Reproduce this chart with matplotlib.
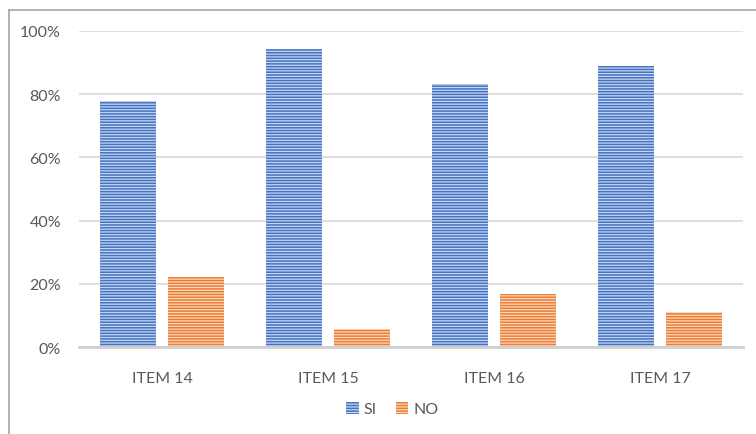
import matplotlib
matplotlib.use("Agg")
import matplotlib.pyplot as plt
from matplotlib.lines import Line2D
from matplotlib.patches import Patch
from matplotlib.ticker import PercentFormatter
import numpy as np

items = ["ITEM 14", "ITEM 15", "ITEM 16", "ITEM 17"]
si = [77.8, 94.4, 83.3, 88.9]
no = [22.2, 5.6, 16.7, 11.1]
yticks = [0, 20, 40, 60, 80, 100]

BLUE = "#4472C4"
ORANGE = "#ED7D31"
TEXT = "#595959"

plt.rcParams["font.family"] = ["Lato", "DejaVu Sans"]
plt.rcParams["hatch.linewidth"] = 0.9

fig = plt.figure(figsize=(7.56, 4.35), dpi=100)
ax = fig.add_axes([79 / 756, 1 - 348 / 435, 664 / 756, 316 / 435])

x = np.arange(len(items))
w = 0.337
stripe = dict(hatch="------", edgecolor=(1, 1, 1, 0.7), linewidth=0, zorder=3)
ax.bar(x - 0.207, si, w, color=BLUE, label="SI", **stripe)
ax.bar(x + 0.207, no, w, color=ORANGE, label="NO", **stripe)

ax.set_xlim(-0.5, len(items) - 0.5)
ax.set_ylim(0, 100)
ax.set_yticks(yticks)
ax.yaxis.set_major_formatter(PercentFormatter(decimals=0))
ax.set_xticks(x)
ax.set_xticklabels(items)
ax.tick_params(length=0, labelsize=11.5, colors=TEXT)
ax.tick_params(axis="y", pad=13)
ax.tick_params(axis="x", pad=17)

ax.grid(axis="y", color="#D9D9D9", linewidth=1.2, zorder=0)
for s in ["top", "right", "left"]:
    ax.spines[s].set_visible(False)
ax.spines["bottom"].set_color("#D0D0D0")
ax.spines["bottom"].set_linewidth(2)
ax.spines["bottom"].set_zorder(4)

handles = [Patch(facecolor=BLUE, hatch="------", edgecolor=(1, 1, 1, 0.7), linewidth=0, label="SI"),
           Patch(facecolor=ORANGE, hatch="------", edgecolor=(1, 1, 1, 0.7), linewidth=0, label="NO")]
fig.legend(handles=handles, loc="center", bbox_to_anchor=(392 / 756, 1 - 410 / 435),
           ncol=2, frameon=False, fontsize=11.5, labelcolor=TEXT,
           handlelength=0.8, handleheight=0.8, handletextpad=0.3, columnspacing=1.2)

# outer chart frame (left and top edges)
yb = 1 - 10.5 / 435
fig.add_artist(Line2D([8.5 / 756, 8.5 / 756], [0, yb], color="#A6A6A6", linewidth=1.2))
fig.add_artist(Line2D([8.5 / 756, 1], [yb, yb], color="#A6A6A6", linewidth=1.2))

fig.savefig("out.png", dpi=100)
